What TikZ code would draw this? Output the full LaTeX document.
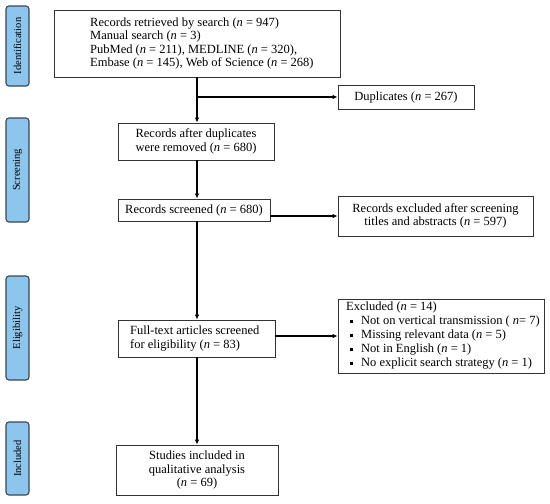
\documentclass[tikz,border=0pt]{standalone}
\usepackage{fontspec}
\setmainfont{Liberation Serif}
\usetikzlibrary{arrows.meta}
\definecolor{sideblue}{HTML}{8CC6EC}
\definecolor{sideedge}{HTML}{3A4654}
\definecolor{boxedge}{HTML}{333333}
\newcommand{\nn}{\textit{n}}
\newcommand{\bul}{\raisebox{1.8pt}{\rule{3.2pt}{3.2pt}}}
\tikzset{
  sidelabel/.style={draw=sideedge, fill=sideblue, line width=1.1pt, rounded corners=3pt,
    minimum height=23pt, inner sep=0pt, rotate=90, font=\fontsize{10.5}{12}\selectfont},
  flowbox/.style={draw=boxedge, line width=0.8pt, inner sep=0pt, align=center,
    font=\fontsize{12.5}{13.5}\selectfont},
  txt/.style={inner sep=0pt, align=left, font=\fontsize{12.5}{13.5}\selectfont},
  arr/.style={line width=1.3pt, -{Latex[length=5pt,width=4.5pt]}},
  ln/.style={line width=1.3pt}
}
\begin{document}
\begin{tikzpicture}[x=1pt,y=1pt]
\useasboundingbox (0,0) rectangle (550,-504);
\fill[white] (0,0) rectangle (550,-504);

% side labels
\node[sidelabel, minimum width=80pt] (sid) at (17.5,-46) {Identification};
\node[sidelabel, minimum width=104pt] (sscr) at (17.5,-170) {Screening};
\node[sidelabel, minimum width=104pt] (selig) at (17.5,-328) {Eligibility};
\node[sidelabel, minimum width=73pt] (sinc) at (17.5,-458.5) {Included};

% box 1
\node[flowbox, minimum width=286pt, minimum height=67pt] (b1) at (197,-43.5) {};
\node[txt, anchor=west] (b1t) at (90,-43.5) {Records retrieved by search (\nn{} = 947)\\
Manual search (\nn{} = 3)\\
PubMed (\nn{} = 211), MEDLINE (\nn{} = 320),\\
Embase (\nn{} = 145), Web of Science (\nn{} = 268)};

% duplicates
\node[flowbox, minimum width=136pt, minimum height=24pt] (dup) at (406,-97) {Duplicates (\nn{} = 267)};

% box 2
\node[flowbox, minimum width=156pt, minimum height=37pt] (b2) at (196,-141.5) {Records after duplicates\\were removed (\nn{} = 680)};

% box 3
\node[flowbox, minimum width=152pt, minimum height=22pt] (b3) at (194,-210) {Records screened (\nn{} = 680)};

% excluded 1
\node[flowbox, minimum width=195pt, minimum height=40pt] (ex1) at (435.5,-216) {Records excluded after screening\\titles and abstracts (\nn{} = 597)};

% box 4
\node[flowbox, minimum width=157pt, minimum height=37pt] (b4) at (196.5,-338.5) {};
\node[txt, anchor=west] (b4t) at (130,-338.5) {Full-text articles screened\\for eligibility (\nn{} = 83)};

% excluded 2
\node[flowbox, minimum width=206pt, minimum height=74pt] (ex2) at (441,-336) {};
\node[txt, anchor=west, font=\fontsize{12.5}{14}\selectfont] (ex2t) at (346,-336) {Excluded (\nn{} = 14)\\
\makebox[15pt][l]{\hspace{4pt}\bul}Not on vertical transmission ( \nn= 7)\\
\makebox[15pt][l]{\hspace{4pt}\bul}Missing relevant data (\nn{} = 5)\\
\makebox[15pt][l]{\hspace{4pt}\bul}Not in English (\nn{} = 1)\\
\makebox[15pt][l]{\hspace{4pt}\bul}No explicit search strategy (\nn{} = 1)};

% box 5
\node[flowbox, minimum width=162pt, minimum height=50pt] (b5) at (197,-470) {Studies included in\\qualitative analysis\\(\nn{} = 69)};

% connectors
\coordinate (jx) at (197,-97);
\draw[arr] (b1.south -| jx) -- (b2.north -| jx);
\draw[arr] (jx) -- (dup.west);
\draw[arr] (b2.south -| jx) -- (b3.north -| jx);
\draw[arr] (b3.south -| jx) -- (b4.north -| jx);
\draw[arr] (b4.south -| jx) -- (b5.north -| jx);
\draw[arr] (ex1.west -| b3.east) -- (ex1.west);
\draw[arr] (ex2.west -| b4.east) -- (ex2.west);
\end{tikzpicture}
\end{document}
